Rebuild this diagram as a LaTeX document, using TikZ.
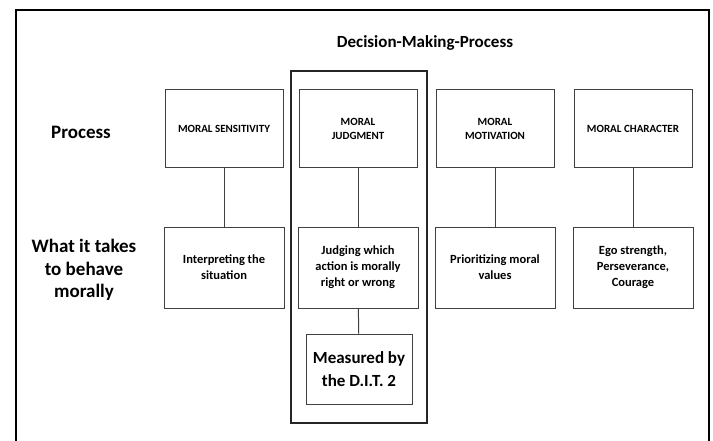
\documentclass[tikz,border=0pt]{standalone}
\usepackage{fontspec}
\setmainfont{Carlito}
\begin{document}
\begin{tikzpicture}[x=1pt,y=-1pt]
\tikzset{box style/.style={shape=rectangle,draw=black!75,line width=1pt,align=center,inner sep=2pt},
         top style/.style={box style,minimum width=118pt,minimum height=78pt,font=\fontsize{11}{14}\selectfont\bfseries},
         low style/.style={box style,minimum width=120pt,minimum height=81pt,font=\fontsize{12.5}{16}\selectfont\bfseries},
         side style/.style={align=center,font=\fontsize{19}{22.5}\selectfont\bfseries}}
\useasboundingbox (0,0) rectangle (713,440);

% outer frame, cut at the bottom
\draw[line width=1.6pt] (16,445) -- (16,10) -- (709,10) -- (709,445);

\node[font=\fontsize{17}{20}\selectfont\bfseries] at (425, 43)  (title) {Decision-Making-Process};

\node[side style] at (81, 132)  (proc)  {Process};
\node[side style] at (84, 270)  (takes) {What it takes\\to behave\\morally};

\node[top style] at (224, 128.5) (1) {MORAL SENSITIVITY};
\node[top style] at (358, 128.5) (2) {MORAL\\JUDGMENT};
\node[top style] at (495, 128.5) (3) {MORAL\\MOTIVATION};
\node[top style] at (633, 128.5) (4) {MORAL CHARACTER};

\node[low style] at (224, 267.5) (5) {Interpreting the\\situation};
\node[low style] at (358, 267.5) (6) {Judging which\\action is morally\\right or wrong};
\node[low style] at (495, 267.5) (7) {Prioritizing moral\\values};
\node[low style] at (633, 267.5) (8) {Ego strength,\\Perseverance,\\Courage};

\node[box style,minimum width=106pt,minimum height=70pt,
      font=\fontsize{17}{23}\selectfont\bfseries] at (359, 369) (9) {Measured by\\the D.I.T. 2};

% highlight round moral judgment
\draw[line width=2.6pt,draw=black!85] (291,71) rectangle (427,423);

\draw[line width=1pt, draw=black!75]
            (1)     edge    (5)
            (2)     edge    (6)
            (3)     edge    (7)
            (4)     edge    (8)
            (6)     edge    (9)
;
\end{tikzpicture}
\end{document}
